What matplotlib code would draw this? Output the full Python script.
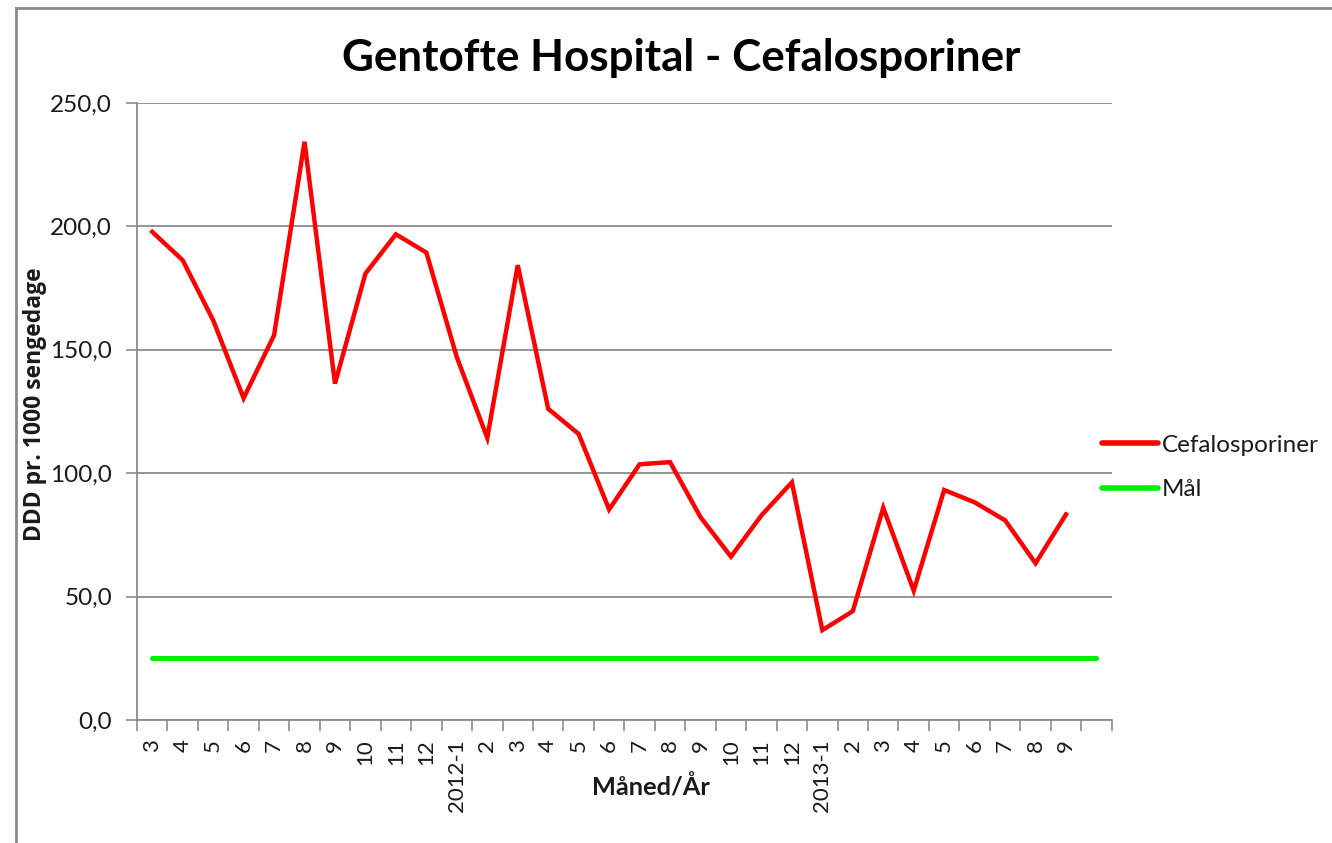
import matplotlib.pyplot as plt
import numpy as np
from matplotlib.lines import Line2D
from matplotlib.ticker import FuncFormatter, FixedLocator

# month labels (one empty slot at the end, as in the source sheet)
labels = ['3', '4', '5', '6', '7', '8', '9', '10', '11', '12',
          '2012-1', '2', '3', '4', '5', '6', '7', '8', '9', '10', '11', '12',
          '2013-1', '2', '3', '4', '5', '6', '7', '8', '9', '']

cefalosporiner = [197.8, 186.3, 162.0, 130.4, 155.9, 234.3, 136.3, 180.9, 196.8, 189.4,
                  147.0, 114.3, 184.3, 126.1, 115.9, 85.3, 103.6, 104.5, 82.2, 66.2, 82.9, 96.3,
                  36.4, 44.1, 86.0, 52.4, 93.2, 88.2, 80.9, 63.5, 83.3]
maal = [25.0] * 32

W, H = 1332, 843
fig = plt.figure(figsize=(W / 100, H / 100), dpi=100)
fig.patch.set_facecolor('white')

ax = fig.add_axes([137 / W, 1 - 720 / H, (1111.7 - 137) / W, (720 - 103) / H])

x_c = np.arange(len(cefalosporiner)) + 0.5
x_m = np.arange(len(maal)) + 0.5

ax.plot(x_c, cefalosporiner, color='#ff0000', lw=3.2, solid_joinstyle='miter', label='Cefalosporiner')
ax.plot(x_m, maal, color='#00ee00', lw=3.6, solid_capstyle='round', label='Mål')

ax.set_xlim(0, len(labels))
ax.set_ylim(0, 250)

grid_c = '#8c8c8c'
txt_c = '#1a1a1a'
ax.set_yticks([0, 50, 100, 150, 200, 250])
ax.yaxis.set_major_formatter(FuncFormatter(lambda v, p: f'{v:.1f}'.replace('.', ',')))
ax.yaxis.grid(True, color=grid_c, lw=1.3)
ax.set_axisbelow(True)

# ticks on the category boundaries, labels in the middle
ax.xaxis.set_major_locator(FixedLocator(np.arange(len(labels) + 1)))
ax.set_xticklabels([''] * (len(labels) + 1))
ax.xaxis.set_minor_locator(FixedLocator(np.arange(len(labels)) + 0.5))
ax.set_xticklabels(labels, minor=True, rotation=90, fontsize=16, family='Lato', color=txt_c)
ax.tick_params(axis='x', which='major', length=8, width=1.2, color=grid_c, direction='out')
ax.tick_params(axis='x', which='minor', length=0, pad=14)
ax.tick_params(axis='y', length=8, width=1.2, color=grid_c, labelsize=17.5, labelcolor=txt_c, pad=10)
for t in ax.get_yticklabels():
    t.set_family('Lato')

for s in ['top', 'right']:
    ax.spines[s].set_visible(False)
for s in ['left', 'bottom']:
    ax.spines[s].set_color(grid_c)
    ax.spines[s].set_linewidth(1.3)

ax.set_ylabel('DDD pr. 1000 sengedage', fontsize=16.5, fontweight='bold', family='Open Sans', color=txt_c)
ax.yaxis.set_label_coords((47 - 137) / 974.7, (720 - 404) / 617)
fig.text(651 / W, 1 - 787 / H, 'Måned/År', fontsize=18.3, fontweight='bold', family='Lato',
         ha='center', va='center', color=txt_c)

fig.text(681 / W, 1 - 58 / H, 'Gentofte Hospital - Cefalosporiner', fontsize=31.7, fontweight='bold',
         family='Lato', ha='center', va='center', color='black')

leg = ax.legend(loc='center left', bbox_to_anchor=(1102 / W, 1 - 467.5 / H), bbox_transform=fig.transFigure,
                frameon=False, prop={'family': 'Lato', 'size': 17.5}, handlelength=2.3,
                handletextpad=0.15, labelspacing=0.95, borderpad=0, borderaxespad=0)
for line in leg.get_lines():
    line.set_linewidth(4)
    line.set_solid_capstyle('round')
for t in leg.get_texts():
    t.set_color(txt_c)

# chart area border (cropped at right and bottom)
fig.add_artist(Line2D([16 / W, 1], [1 - 8 / H, 1 - 8 / H], color='#8a8a8a', lw=2, transform=fig.transFigure))
fig.add_artist(Line2D([16 / W, 16 / W], [0, 1 - 8 / H], color='#8a8a8a', lw=2, transform=fig.transFigure))

plt.savefig('out.png', dpi=100)
